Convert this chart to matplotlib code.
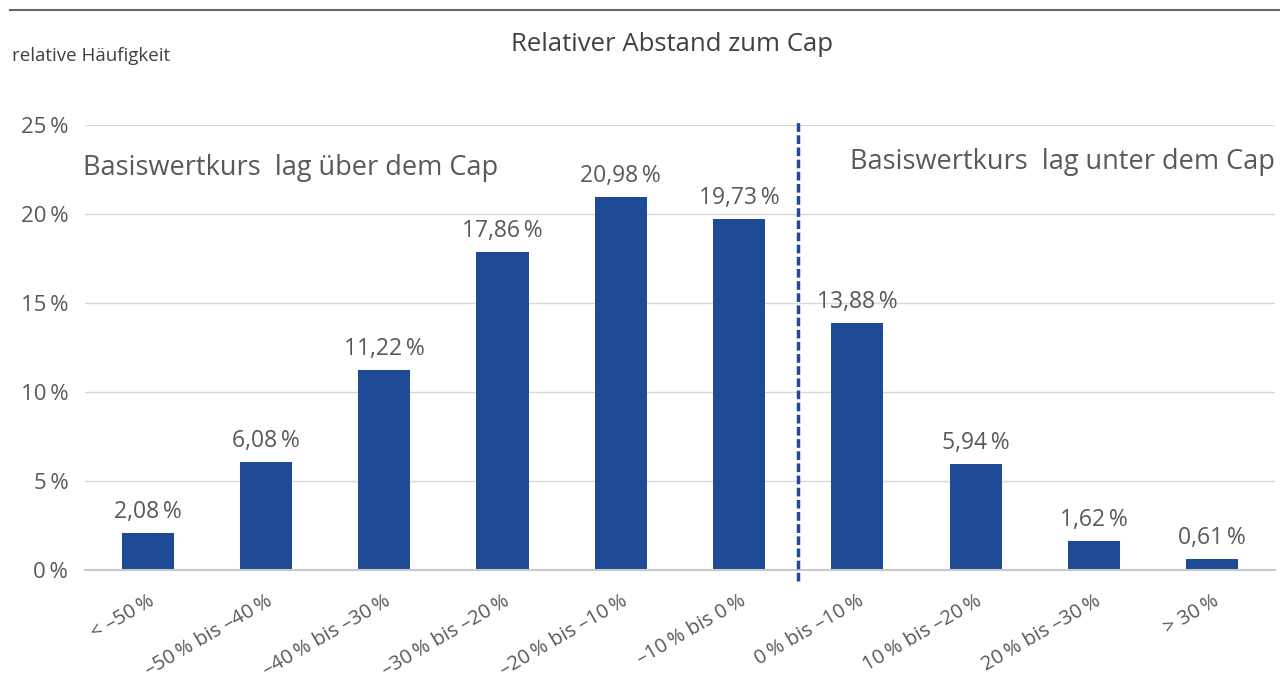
import matplotlib
matplotlib.use("Agg")
import numpy as np
from matplotlib import pyplot as plt
from matplotlib.transforms import ScaledTranslation

categories = ["< \u201350\u2009%", "\u201350\u2009% bis \u201340\u2009%", "\u201340\u2009% bis \u201330\u2009%",
              "\u201330\u2009% bis \u201320\u2009%", "\u201320\u2009% bis \u201310\u2009%", "\u201310\u2009% bis 0\u2009%",
              "0\u2009% bis \u201310\u2009%", "10\u2009% bis \u201320\u2009%", "20\u2009% bis \u201330\u2009%",
              "> 30\u2009%"]
values = [2.08, 6.08, 11.22, 17.86, 20.98, 19.73, 13.88, 5.94, 1.62, 0.61]
yticks = [0, 5, 10, 15, 20, 25]
cap_split = 5.5

plt.rcParams['font.family'] = ['Open Sans', 'DejaVu Sans']
grey = "#595959"
blue = "#1f4a96"

fig = plt.figure(figsize=(12.8, 6.84), dpi=100)
ax = fig.add_axes([0.0664, 0.1667, 0.9296, 0.6506])

x = np.arange(len(values))
ax.bar(x, values, width=0.44, color=blue, zorder=3)
for xi, v in zip(x, values):
    ax.text(xi, v + 0.5, f"{v:.2f}".replace(".", ",") + "\u2009%",
            ha="center", va="bottom", fontsize=16.5, color=grey)

ax.set_xlim(-0.53, len(values) - 0.47)
ax.set_ylim(0, 25)
ax.set_yticks(yticks)
ax.set_yticklabels([f"{t}\u2009%" for t in yticks], fontsize=16, color=grey)
ax.set_xticks(x)
ax.set_xticklabels(categories, rotation=30, ha="right", rotation_mode="anchor",
                   fontsize=14.5, color=grey)
shift = ScaledTranslation(0.14, 0, fig.dpi_scale_trans)
for lab in ax.get_xticklabels():
    lab.set_transform(lab.get_transform() + shift)
ax.tick_params(axis="both", length=0)
ax.tick_params(axis="y", pad=12)
ax.tick_params(axis="x", pad=15)
ax.grid(axis="y", color="#d9d9d9", lw=1, zorder=0)
for s in ["top", "right", "left"]:
    ax.spines[s].set_visible(False)
ax.spines["bottom"].set_color("#c8c8c8")
ax.spines["bottom"].set_linewidth(1.5)
ax.spines["bottom"].set_zorder(4)

ax.plot([cap_split, cap_split], [-0.6, 25.3], color=blue, lw=2.5,
        ls=(0, (2.5, 1)), clip_on=False, zorder=5)

ax.text(-0.55, 22.6, "Basiswertkurs  lag über dem Cap", fontsize=19.5,
        color=grey, va="center", ha="left")
ax.text(9.53, 22.9, "Basiswertkurs  lag unter dem Cap", fontsize=19.5,
        color=grey, va="center", ha="right")

fig.text(0.525, 0.935, "Relativer Abstand zum Cap", fontsize=18.5,
         color="#404040", ha="center", va="center")
fig.text(0.009, 0.918, "relative Häufigkeit", fontsize=13.5,
         color="#404040", ha="left", va="center")
fig.add_artist(plt.Line2D([0.008, 1.0], [0.985, 0.985], color="#666666", lw=1.5))

fig.savefig("out.png", dpi=100)
